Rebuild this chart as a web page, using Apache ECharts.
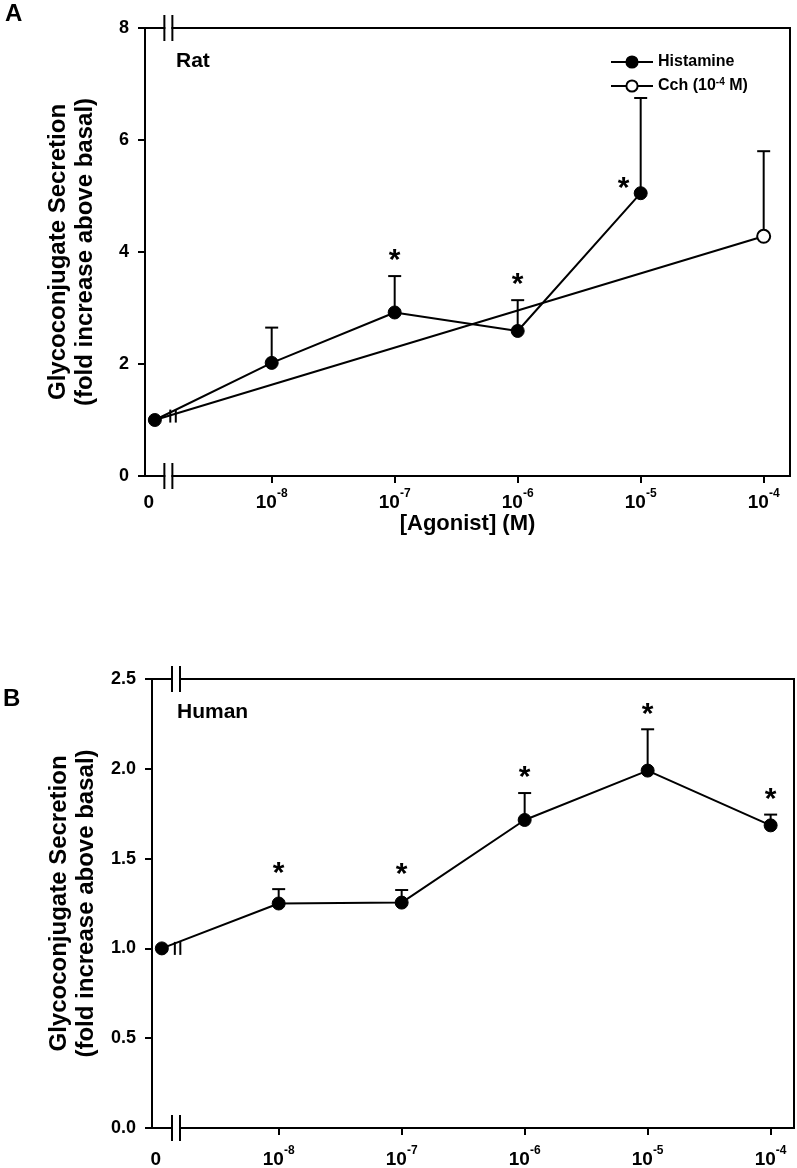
<!DOCTYPE html>
<html>
<head>
<meta charset="utf-8">
<script src="https://cdn.jsdelivr.net/npm/echarts@6/dist/echarts.min.js"></script>
<style>
html,body{margin:0;padding:0;background:#fff;}
#c{width:797px;height:1168px;}
</style>
</head>
<body>
<div id="c"></div>
<script>
// ---------- DATA ----------
// x positions are log10([agonist] M); basal ("0") sits left of the axis break
const basalPos = -8.95;
const zeroLabelPos = -9.0;
const xTickValues = [-8, -7, -6, -5, -4];
const xTickExp = ['-8', '-7', '-6', '-5', '-4'];

// Panel A (Rat)
const ratHistX = [basalPos, -8, -7, -6, -5];
const ratHistMean = [1.0, 2.02, 2.92, 2.59, 5.05];
const ratHistSEM = [0, 0.63, 0.65, 0.55, 1.70];
const ratHistSig = ['', '', 'above', 'above', 'left'];
const ratCchX = [basalPos, -4];
const ratCchMean = [1.0, 4.28];
const ratCchSEM = [0, 1.52];

// Panel B (Human)
const humHistX = [basalPos, -8, -7, -6, -5, -4];
const humHistMean = [1.0, 1.25, 1.255, 1.715, 1.99, 1.685];
const humHistSEM = [0, 0.08, 0.07, 0.15, 0.23, 0.06];
const humHistSig = ['', 'above', 'above', 'above', 'above', 'above'];

const yTicksA = {min: 0, max: 8, interval: 2};
const yTicksB = {min: 0, max: 2.5, interval: 0.5};

// axis-break locations (x in log units)
const axisBreakA = -8.84;
const axisBreakB = -8.835;
const lineBreakA = [-8.80, 1.07];
const lineBreakB = [-8.82, 1.0];

// ---------- HELPERS ----------
const FONT = "'Liberation Sans', Arial, Helvetica, sans-serif";

function pairs(xs, ys) { return xs.map((x, i) => [x, ys[i]]); }
function errData(xs, m, s) {
  const out = [];
  xs.forEach((x, i) => { if (s[i] > 0) out.push([x, m[i] + s[i], m[i]]); });
  return out;
}
function starData(xs, m, s, sig) {
  const out = [];
  xs.forEach((x, i) => {
    if (sig[i] === 'above') out.push([x, m[i] + s[i], 0]);
    else if (sig[i] === 'left') out.push([x, m[i], 1]);
  });
  return out;
}

function renderErr(params, api) {
  const top = api.coord([api.value(0), api.value(1)]);
  const base = api.coord([api.value(0), api.value(2)]);
  const st = {stroke: '#000', lineWidth: 2};
  return {type: 'group', children: [
    {type: 'line', shape: {x1: top[0], y1: top[1], x2: base[0], y2: base[1]}, style: st},
    {type: 'line', shape: {x1: top[0] - 6.5, y1: top[1], x2: top[0] + 6.5, y2: top[1]}, style: st}
  ]};
}
function renderStar(params, api) {
  const p = api.coord([api.value(0), api.value(1)]);
  const mode = api.value(2);
  let x = p[0], y = p[1] - 15;
  if (mode === 1) { x = p[0] - 17; y = p[1] - 4; }
  return {type: 'text', x: x, y: y, style: {
    text: '*', fill: '#000', font: 'bold 30px ' + FONT, align: 'center', verticalAlign: 'middle'
  }};
}
function renderAxisBreak(params, api) {
  const p = api.coord([api.value(0), api.value(1)]);
  const st = {stroke: '#000', lineWidth: 2};
  return {type: 'group', children: [
    {type: 'rect', shape: {x: p[0] - 3, y: p[1] - 2, width: 6, height: 4}, style: {fill: '#fff'}},
    {type: 'line', shape: {x1: p[0] - 4, y1: p[1] - 13, x2: p[0] - 4, y2: p[1] + 13}, style: st},
    {type: 'line', shape: {x1: p[0] + 4, y1: p[1] - 13, x2: p[0] + 4, y2: p[1] + 13}, style: st}
  ]};
}
function renderLineBreak(params, api) {
  const p = api.coord([api.value(0), api.value(1)]);
  const st = {stroke: '#000', lineWidth: 2};
  return {type: 'group', children: [
    {type: 'line', shape: {x1: p[0] - 3, y1: p[1] - 6.5, x2: p[0] - 3, y2: p[1] + 6.5}, style: st},
    {type: 'line', shape: {x1: p[0] + 2.5, y1: p[1] - 6.5, x2: p[0] + 2.5, y2: p[1] + 6.5}, style: st}
  ]};
}

function xAxisCfg(gridIndex, min, max, name, margin) {
  return {
    type: 'value', gridIndex: gridIndex, min: min, max: max,
    name: name, nameLocation: 'middle', nameGap: 32,
    nameTextStyle: {fontFamily: FONT, fontWeight: 'bold', fontSize: 22, color: '#000'},
    axisLine: {show: true, onZero: false, lineStyle: {color: '#000', width: 2}},
    axisTick: {show: true, length: 7, lineStyle: {color: '#000', width: 2}, customValues: xTickValues},
    axisLabel: {
      show: true, margin: margin, color: '#000',
      customValues: [zeroLabelPos].concat(xTickValues),
      formatter: function (v) {
        const i = xTickValues.indexOf(v);
        if (i < 0) return '{b|0}';
        return '{b|10}{s|' + xTickExp[i] + '}';
      },
      rich: {
        b: {fontFamily: FONT, fontWeight: 'bold', fontSize: 19, color: '#000', lineHeight: 24, verticalAlign: 'bottom'},
        s: {fontFamily: FONT, fontWeight: 'bold', fontSize: 12, color: '#000', lineHeight: 24, verticalAlign: 'top'}
      }
    },
    splitLine: {show: false}
  };
}
function yAxisCfg(gridIndex, t, dec, gap) {
  return {
    type: 'value', gridIndex: gridIndex, min: t.min, max: t.max, interval: t.interval,
    name: 'Glycoconjugate Secretion\n(fold increase above basal)',
    nameLocation: 'middle', nameRotate: 90, nameGap: gap,
    nameTextStyle: {fontFamily: FONT, fontWeight: 'bold', fontSize: 24, color: '#000', lineHeight: 27},
    axisLine: {show: true, onZero: false, lineStyle: {color: '#000', width: 2}},
    axisTick: {show: true, length: 7, lineStyle: {color: '#000', width: 2}},
    axisLabel: {
      margin: 16, color: '#000', fontFamily: FONT, fontWeight: 'bold', fontSize: 18,
      formatter: v => v.toFixed(dec)
    },
    splitLine: {show: false}
  };
}

const histStyle = {
  type: 'line', symbol: 'circle', symbolSize: 13,
  lineStyle: {color: '#000', width: 2},
  itemStyle: {color: '#000', borderColor: '#000', borderWidth: 1},
  z: 5, animation: false
};

const option = {
  animation: false,
  backgroundColor: '#fff',
  grid: [
    {left: 145, top: 28, width: 645, height: 448, show: true, borderColor: '#000', borderWidth: 2, backgroundColor: 'transparent', outerBoundsMode: 'none'},
    {left: 152, top: 679, width: 642, height: 449, show: true, borderColor: '#000', borderWidth: 2, backgroundColor: 'transparent', outerBoundsMode: 'none'}
  ],
  xAxis: [
    xAxisCfg(0, -9.03, -3.786, '[Agonist] (M)', 12),
    xAxisCfg(1, -9.03, -3.81, '', 17)
  ],
  yAxis: [
    yAxisCfg(0, yTicksA, 0, 46),
    yAxisCfg(1, yTicksB, 1, 52)
  ],
  legend: {
    data: ['Histamine', 'Cch'],
    orient: 'vertical', left: 610, top: 54, padding: 0,
    itemWidth: 42, itemHeight: 14, itemGap: 7,
    formatter: n => n === 'Cch' ? 'Cch (10{s|-4} M)' : n,
    textStyle: {
      fontFamily: FONT, fontWeight: 'bold', fontSize: 16, color: '#000',
      rich: {s: {fontFamily: FONT, fontWeight: 'bold', fontSize: 10, color: '#000', verticalAlign: 'top', lineHeight: 18}}
    }
  },
  graphic: [
    {type: 'text', left: 5, top: 2, style: {text: 'A', font: 'bold 24px ' + FONT, fill: '#000'}},
    {type: 'text', left: 3, top: 687, style: {text: 'B', font: 'bold 24px ' + FONT, fill: '#000'}},
    {type: 'text', left: 176, top: 51, style: {text: 'Rat', font: 'bold 21px ' + FONT, fill: '#000'}},
    {type: 'text', left: 177, top: 702, style: {text: 'Human', font: 'bold 21px ' + FONT, fill: '#000'}}
  ],
  series: [
    // Panel A
    {type: 'custom', name: 'errCch', xAxisIndex: 0, yAxisIndex: 0, renderItem: renderErr, data: errData(ratCchX, ratCchMean, ratCchSEM), clip: false, z: 3},
    {type: 'custom', name: 'errHistA', xAxisIndex: 0, yAxisIndex: 0, renderItem: renderErr, data: errData(ratHistX, ratHistMean, ratHistSEM), clip: false, z: 3},
    {
      type: 'line', name: 'Cch', xAxisIndex: 0, yAxisIndex: 0,
      symbol: 'circle', symbolSize: 13,
      lineStyle: {color: '#000', width: 2},
      itemStyle: {color: '#fff', borderColor: '#000', borderWidth: 2},
      data: pairs(ratCchX, ratCchMean).map((d, i) => i === 0 ? {value: d, symbol: 'none'} : {value: d}),
      z: 4
    },
    Object.assign({}, histStyle, {name: 'Histamine', xAxisIndex: 0, yAxisIndex: 0, data: pairs(ratHistX, ratHistMean)}),
    {type: 'custom', name: 'starsA', xAxisIndex: 0, yAxisIndex: 0, renderItem: renderStar, data: starData(ratHistX, ratHistMean, ratHistSEM, ratHistSig), clip: false, z: 6},
    {type: 'custom', name: 'axisBreakA', xAxisIndex: 0, yAxisIndex: 0, renderItem: renderAxisBreak, data: [[axisBreakA, yTicksA.min], [axisBreakA, yTicksA.max]], clip: false, z: 10},
    {type: 'custom', name: 'lineBreakA', xAxisIndex: 0, yAxisIndex: 0, renderItem: renderLineBreak, data: [lineBreakA], clip: false, z: 10},
    // Panel B
    {type: 'custom', name: 'errHistB', xAxisIndex: 1, yAxisIndex: 1, renderItem: renderErr, data: errData(humHistX, humHistMean, humHistSEM), clip: false, z: 3},
    Object.assign({}, histStyle, {name: 'Histamine (human)', xAxisIndex: 1, yAxisIndex: 1, data: pairs(humHistX, humHistMean)}),
    {type: 'custom', name: 'starsB', xAxisIndex: 1, yAxisIndex: 1, renderItem: renderStar, data: starData(humHistX, humHistMean, humHistSEM, humHistSig), clip: false, z: 6},
    {type: 'custom', name: 'axisBreakB', xAxisIndex: 1, yAxisIndex: 1, renderItem: renderAxisBreak, data: [[axisBreakB, yTicksB.min], [axisBreakB, yTicksB.max]], clip: false, z: 10},
    {type: 'custom', name: 'lineBreakB', xAxisIndex: 1, yAxisIndex: 1, renderItem: renderLineBreak, data: [lineBreakB], clip: false, z: 10}
  ]
};

const chart = echarts.init(document.getElementById('c'), null, {renderer: 'canvas'});
chart.setOption(option);
</script>
</body>
</html>
